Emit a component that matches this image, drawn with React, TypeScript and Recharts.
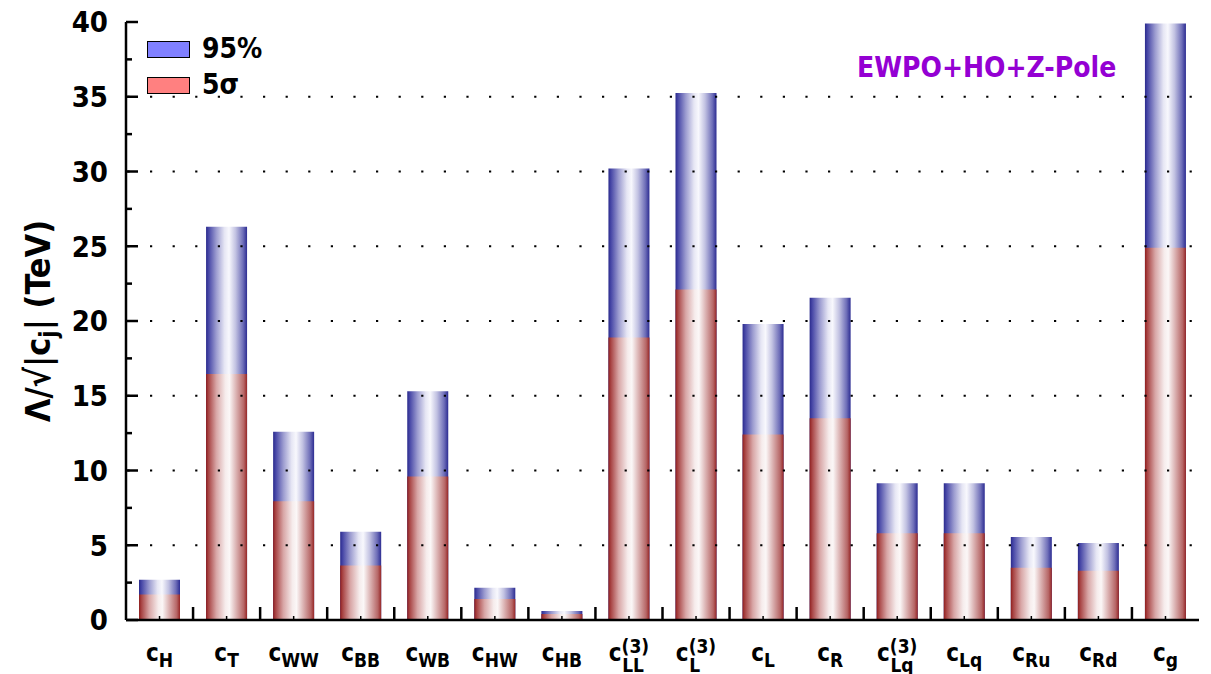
import React from "react";
import { BarChart, Bar, XAxis, YAxis, ReferenceLine, Legend } from "recharts";

// Wilson coefficients (subscript of c) and whether they carry the (3) triplet index
const coefficients = ["H", "T", "WW", "BB", "WB", "HW", "HB", "LL", "L", "L", "R", "Lq", "Lq", "Ru", "Rd", "g"];
const tripletIndex = [false, false, false, false, false, false, false, true, true, false, false, true, false, false, false, false];

// Reach on Λ/√|c_j| in TeV
const limit95 = [2.7, 26.3, 12.6, 5.9, 15.3, 2.15, 0.6, 30.2, 35.25, 19.8, 21.55, 9.15, 9.15, 5.55, 5.15, 39.9];
const limit5sigma = [1.7, 16.45, 7.95, 3.65, 9.6, 1.4, 0.4, 18.9, 22.1, 12.4, 13.5, 5.8, 5.8, 3.5, 3.3, 24.9];

const yTicks = [0, 2.5, 5, 7.5, 10, 12.5, 15, 17.5, 20, 22.5, 25, 27.5, 30, 32.5, 35, 37.5, 40];
const gridLevels = [5, 10, 15, 20, 25, 30, 35];

const seriesNames = { cl95: "95%", sigma5: "5σ" };
const legendOrder = ["cl95", "sigma5"];
const legendColors = { cl95: "#8080ff", sigma5: "#ff8080" };

const data = coefficients.map((sub, i) => ({
  id: `c_${sub}${tripletIndex[i] ? "3" : ""}`,
  sub,
  sup: tripletIndex[i] ? "(3)" : "",
  cl95: limit95[i],
  sigma5: limit5sigma[i],
}));

const FONT = "'DejaVu Sans Condensed', 'DejaVu Sans', sans-serif";
const AXIS_STROKE = { stroke: "#000", strokeWidth: 2.5 };

const halfBand = (props: any) =>
  props.payload && typeof props.payload.offset === "number" && props.payload.offset > 0
    ? props.payload.offset
    : props.width / props.visibleTicksCount / 2;

const BottomTick = (props: any) => {
  const { x, y, payload, index, visibleTicksCount } = props;
  const row = data.find((d) => d.id === payload.value) || data[index];
  const half = halfBand(props);
  return (
    <g>
      {index < visibleTicksCount - 1 && (
        <line x1={x + half} x2={x + half} y1={y} y2={y - 13} stroke="#000" strokeWidth={2.5} />
      )}
      <line x1={x} x2={x} y1={y} y2={y - 4} stroke="#000" strokeWidth={1.5} />
      <text x={x} y={y + 41} textAnchor="middle" fontFamily={FONT} fontStretch="condensed" fontWeight="bold" fill="#000">
        <tspan fontSize={24}>c</tspan>
        {row.sup ? (
          <>
            <tspan fontSize={19} dy={-8}>{row.sup}</tspan>
            <tspan fontSize={19} dx={-27} dy={19}>{row.sub}</tspan>
          </>
        ) : (
          <tspan fontSize={19} dy={6}>{row.sub}</tspan>
        )}
      </text>
    </g>
  );
};

const TopTick = (props: any) => {
  const { x, y, index, visibleTicksCount } = props;
  const half = halfBand(props);
  if (index >= visibleTicksCount - 1) return <g />;
  return <line x1={x + half} x2={x + half} y1={y} y2={y + 12} stroke="#000" strokeWidth={2.5} />;
};

const LeftTick = (props: any) => {
  const { x, y, payload } = props;
  const major = payload.value % 5 === 0;
  return (
    <g>
      <line x1={x} x2={x + (major ? 12 : 6)} y1={y} y2={y} stroke="#000" strokeWidth={2.5} />
      {major && (
        <text x={x - 18} y={y} dy="0.36em" textAnchor="end" fontFamily={FONT} fontStretch="condensed" fontWeight="bold" fontSize={29} fill="#000">
          {payload.value}
        </text>
      )}
    </g>
  );
};

const RightTick = (props: any) => {
  const { x, y, payload } = props;
  const major = payload.value % 5 === 0;
  return <line x1={x} x2={x - (major ? 12 : 6)} y1={y} y2={y} stroke="#000" strokeWidth={2.5} />;
};

const AxisTitle = (props: any) => {
  const vb = props.viewBox || { x: 0, y: 0, height: 0 };
  const cx = 30;
  const cy = vb.y + vb.height / 2;
  return (
    <text x={cx} y={cy} transform={`rotate(-90 ${cx} ${cy})`} textAnchor="middle" dy="0.36em" fontFamily={FONT} fontStretch="condensed" fontWeight="bold" fontSize={34} fill="#000">
      <tspan>Λ/√|c</tspan>
      <tspan fontSize={24} dy={7}>j</tspan>
      <tspan dy={-7}>| (TeV)</tspan>
    </text>
  );
};

const LegendBox = (props: any) => {
  const items = [...(props.payload || [])].sort(
    (a: any, b: any) => legendOrder.indexOf(a.dataKey) - legendOrder.indexOf(b.dataKey)
  );
  return (
    <div style={{ fontFamily: FONT, fontStretch: "condensed", fontWeight: "bold", fontSize: 28, color: "#000" }}>
      {items.map((it: any) => (
        <div key={it.dataKey} style={{ display: "flex", alignItems: "center", height: 36 }}>
          <div
            style={{
              width: 41,
              height: 15,
              background: (legendColors as any)[it.dataKey],
              border: "1.5px solid #000",
              marginRight: 12,
            }}
          />
          <span style={{ lineHeight: 1 }}>{it.value}</span>
        </div>
      ))}
    </div>
  );
};

export default function App() {
  return (
    <div style={{ position: "relative", width: 1203, height: 666, fontFamily: FONT }}>
      <BarChart
        width={1203}
        height={666}
        data={data}
        margin={{ top: 14, right: 12, bottom: 0, left: 0 }}
        barSize={41}
        barGap={-41}
      >
        <defs>
          <linearGradient id="blueShade" x1="0" y1="0" x2="1" y2="0">
            <stop offset="0%" stopColor="#2a2a8c" />
            <stop offset="6%" stopColor="#4646a6" />
            <stop offset="25%" stopColor="#9c9cd0" />
            <stop offset="45%" stopColor="#e6e6f4" />
            <stop offset="56%" stopColor="#f8f8fd" />
            <stop offset="72%" stopColor="#c2c2e2" />
            <stop offset="90%" stopColor="#6e6eb8" />
            <stop offset="100%" stopColor="#2c2c92" />
          </linearGradient>
          <linearGradient id="redShade" x1="0" y1="0" x2="1" y2="0">
            <stop offset="0%" stopColor="#8e1e1e" />
            <stop offset="6%" stopColor="#a84444" />
            <stop offset="25%" stopColor="#d8a6a6" />
            <stop offset="47%" stopColor="#f6ecec" />
            <stop offset="57%" stopColor="#fbf7f7" />
            <stop offset="74%" stopColor="#dab0b0" />
            <stop offset="92%" stopColor="#b66666" />
            <stop offset="100%" stopColor="#962626" />
          </linearGradient>
        </defs>
        <XAxis
          xAxisId="bottom"
          dataKey="id"
          height={54}
          interval={0}
          tickSize={0}
          tickMargin={0}
          tickLine={false}
          axisLine={AXIS_STROKE}
          tick={<BottomTick />}
        />
        <XAxis
          xAxisId="top"
          orientation="top"
          dataKey="id"
          height={0}
          interval={0}
          tickSize={0}
          tickMargin={0}
          tickLine={false}
          axisLine={AXIS_STROKE}
          tick={<TopTick />}
        />
        <YAxis
          yAxisId="left"
          type="number"
          domain={[0, 40]}
          ticks={yTicks}
          interval={0}
          width={118}
          tickSize={0}
          tickMargin={0}
          tickLine={false}
          axisLine={AXIS_STROKE}
          tick={<LeftTick />}
          label={{ content: <AxisTitle /> }}
        />
        <YAxis
          yAxisId="right"
          orientation="right"
          type="number"
          domain={[0, 40]}
          ticks={yTicks}
          interval={0}
          width={0}
          tickSize={0}
          tickMargin={0}
          tickLine={false}
          axisLine={AXIS_STROKE}
          tick={<RightTick />}
        />
        <Legend
          layout="vertical"
          align="center"
          verticalAlign="middle"
          wrapperStyle={{ left: 139, top: 23, width: "auto", height: "auto" }}
          content={<LegendBox />}
        />
        <Bar
          name={seriesNames.cl95}
          dataKey="cl95"
          xAxisId="bottom"
          yAxisId="left"
          fill="url(#blueShade)"
          isAnimationActive={false}
        />
        <Bar
          name={seriesNames.sigma5}
          dataKey="sigma5"
          xAxisId="bottom"
          yAxisId="left"
          fill="url(#redShade)"
          isAnimationActive={false}
        />
        {gridLevels.map((v) => (
          <ReferenceLine
            key={v}
            y={v}
            xAxisId="bottom"
            yAxisId="left"
            stroke="#000"
            strokeWidth={2.2}
            strokeDasharray="2.2 20.4"
            strokeDashoffset={-1.4}
          />
        ))}
      </BarChart>
      <div
        style={{
          position: "absolute",
          left: 849,
          top: 46,
          color: "#9400d3",
          fontFamily: FONT,
          fontStretch: "condensed",
          fontWeight: "bold",
          fontSize: 28,
          lineHeight: "28px",
          whiteSpace: "nowrap",
        }}
      >
        EWPO+HO+Z-Pole
      </div>
    </div>
  );
}
